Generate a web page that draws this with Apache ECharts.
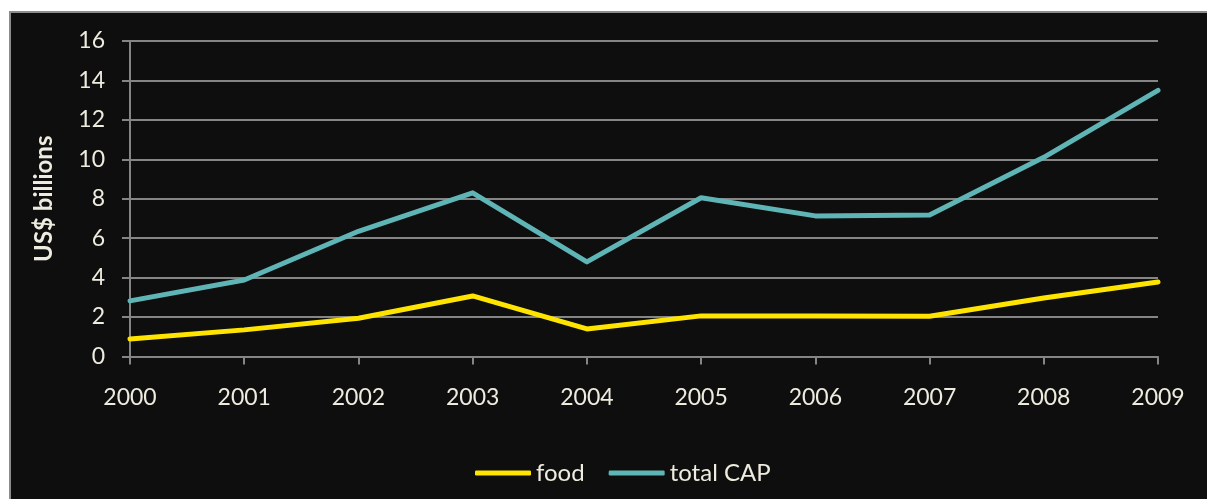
<!DOCTYPE html>
<html>
<head>
<meta charset="utf-8">
<script src="https://cdn.jsdelivr.net/npm/echarts@6/dist/echarts.min.js"></script>
<style>
html,body{margin:0;padding:0;background:#fff;}
#c{width:1207px;height:499px;}
</style>
</head>
<body>
<div id="c"></div>
<script>
const years = ['2000','2001','2002','2003','2004','2005','2006','2007','2008','2009'];
const food = [0.89, 1.35, 1.94, 3.07, 1.4, 2.06, 2.06, 2.04, 2.97, 3.78];
const totalCAP = [2.82, 3.88, 6.35, 8.3, 4.8, 8.05, 7.13, 7.18, 10.1, 13.5];
const yTicks = {min: 0, max: 16, interval: 2};

const txt = '#eeebdf';
const grey = '#858585';
const chart = echarts.init(document.getElementById('c'));
chart.setOption({
  backgroundColor: '#ffffff',
  animation: false,
  graphic: [{
    type: 'rect', z: -100, silent: true,
    shape: {x: 10, y: 12, width: 1300, height: 600},
    style: {fill: '#0e0e0e', stroke: '#8c8c8c', lineWidth: 2}
  }],
  grid: {left: 130, right: 49, top: 41, bottom: 142.5, containLabel: false},
  legend: {
    left: 470, top: 456,
    itemWidth: 56, itemHeight: 5, itemGap: 24,
    icon: 'roundRect',
    textStyle: {color: txt, fontFamily: 'Lato', fontSize: 24},
    data: ['food', 'total CAP']
  },
  xAxis: {
    type: 'category', data: years, boundaryGap: false,
    axisLine: {lineStyle: {color: grey, width: 2}},
    axisTick: {show: true, length: 8, lineStyle: {color: grey, width: 2}},
    axisLabel: {color: txt, fontFamily: 'Lato', fontSize: 23, margin: 30}
  },
  yAxis: {
    type: 'value', min: yTicks.min, max: yTicks.max, interval: yTicks.interval,
    name: 'US$ billions', nameLocation: 'middle', nameGap: 74, nameRotate: 90,
    nameTextStyle: {color: txt, fontFamily: 'Lato', fontWeight: 'bold', fontSize: 24},
    axisLine: {show: true, lineStyle: {color: grey, width: 2}},
    axisTick: {show: true, length: 8, lineStyle: {color: grey, width: 2}},
    splitLine: {lineStyle: {color: grey, width: 2}},
    axisLabel: {color: txt, fontFamily: 'Lato', fontSize: 23, margin: 25}
  },
  series: [
    {name: 'food', type: 'line', data: food, showSymbol: false, symbol: 'none',
     lineStyle: {color: '#ffe400', width: 5, cap: 'round', join: 'round'}, itemStyle: {color: '#ffe400'}},
    {name: 'total CAP', type: 'line', data: totalCAP, showSymbol: false, symbol: 'none',
     lineStyle: {color: '#5fb5b5', width: 5, cap: 'round', join: 'round'}, itemStyle: {color: '#5fb5b5'}}
  ]
});
</script>
</body>
</html>
